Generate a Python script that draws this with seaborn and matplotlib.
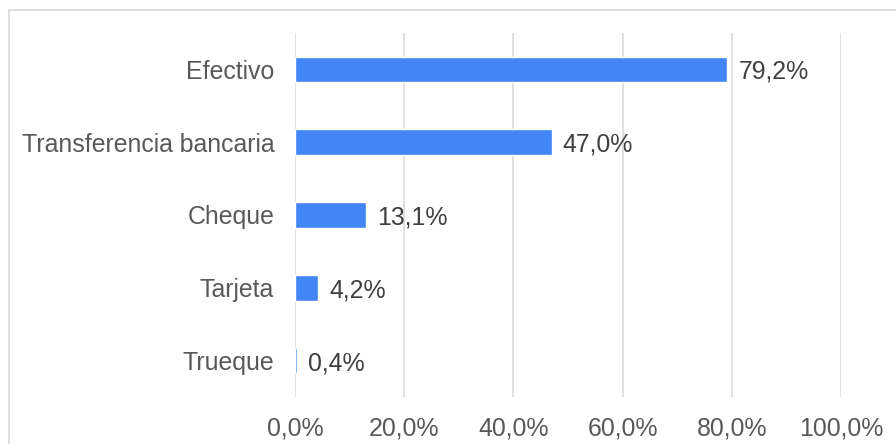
import matplotlib
matplotlib.use("Agg")
import matplotlib.pyplot as plt
import seaborn as sns
from matplotlib.lines import Line2D
from matplotlib.ticker import FuncFormatter

categorias = ["Efectivo", "Transferencia bancaria", "Cheque", "Tarjeta", "Trueque"]
porcentajes = [79.2, 47.0, 13.1, 4.2, 0.4]
ticks_x = [0, 20, 40, 60, 80, 100]

sns.set_style("white")
plt.rcParams["font.family"] = ["Liberation Sans", "DejaVu Sans"]

fig = plt.figure(figsize=(8.96, 4.44), dpi=100)
ax = fig.add_axes([0.3292, 0.1059, 0.6094, 0.8198])

sns.barplot(x=porcentajes, y=categorias, orient="h", color="#4285F4",
            width=0.35, saturation=1, ax=ax)

ax.set_xlim(0, 100)
ax.set_ylim(4.5, -0.5)
ax.set_xticks(ticks_x)
ax.xaxis.set_major_formatter(FuncFormatter(lambda v, p: f"{v:.1f}%".replace(".", ",")))
ax.grid(axis="x", color="#D9D9D9", linewidth=1.1)
ax.set_axisbelow(True)
for s in ax.spines.values():
    s.set_visible(False)

ax.tick_params(axis="y", length=0, pad=15, labelsize=17.9, labelcolor="#595959")
ax.tick_params(axis="x", length=0, pad=14, labelsize=17.9, labelcolor="#595959")
ax.set_xlabel("")
ax.set_ylabel("")

etiquetas = [f"{v:.1f}%".replace(".", ",") for v in porcentajes]
textos = ax.bar_label(ax.containers[0], labels=etiquetas, padding=8,
                      fontsize=17.9, color="#404040")
for t in textos:
    t.set_va("center_baseline")

# marco exterior (solo visible arriba e izquierda)
W, H = 896, 444
fig.add_artist(Line2D([9 / W, 9 / W], [0, 1 - 10 / H], color="#D9D9D9", linewidth=1.2))
fig.add_artist(Line2D([9 / W, 1], [1 - 10 / H, 1 - 10 / H], color="#D9D9D9", linewidth=1.2))

fig.savefig("out.png", dpi=100)
